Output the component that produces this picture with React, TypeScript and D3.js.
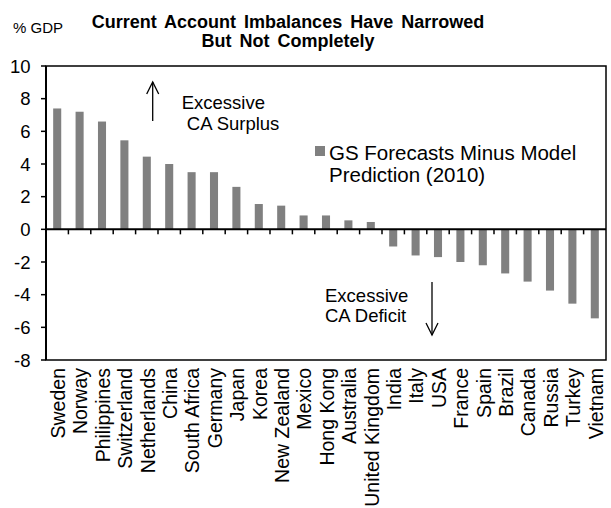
import React from "react";
import * as d3 from "d3";

const countries = [
  "Sweden", "Norway", "Philippines", "Switzerland", "Netherlands", "China",
  "South Africa", "Germany", "Japan", "Korea", "New Zealand", "Mexico",
  "Hong Kong", "Australia", "United Kingdom", "India", "Italy", "USA",
  "France", "Spain", "Brazil", "Canada", "Russia", "Turkey", "Vietnam",
];
const values = [
  7.4, 7.2, 6.6, 5.45, 4.45, 4.0, 3.5, 3.5, 2.6, 1.55, 1.45, 0.85,
  0.85, 0.55, 0.45, -1.05, -1.6, -1.7, -2.0, -2.2, -2.7, -3.2, -3.75, -4.55, -5.45,
];
const yTicks = [10, 8, 6, 4, 2, 0, -2, -4, -6, -8];
const titleLines = ["Current Account Imbalances Have Narrowed", "But Not Completely"];
const legendLines = ["GS Forecasts Minus Model", "Prediction (2010)"];
const surplusLines = ["Excessive", " CA Surplus"];
const deficitLines = ["Excessive", "CA Deficit"];
const yUnit = "% GDP";

const W = 611;
const H = 508;
const L = 46, R = 606, T = 66, B = 360;
const FONT = "'Liberation Sans', Arial, Helvetica, sans-serif";
const GRAY = "#808080";

export default function App() {
  const x = d3.scaleBand<string>().domain(countries).range([L, R]).padding(0);
  const y = d3.scaleLinear().domain([-8, 10]).range([B, T]);
  const bw = x.bandwidth();
  const barW = bw * 0.36;
  const y0 = y(0);

  const arrowHead = (cx: number, cy: number, dir: number) =>
    `M${cx - 6},${cy + dir * 12} L${cx},${cy} L${cx + 6},${cy + dir * 12}`;

  return (
    <svg
      width={W}
      height={H}
      style={{ position: "absolute", left: 0, top: 0, background: "#fff" }}
      fontFamily={FONT}
    >
      <rect x={0} y={0} width={W} height={H} fill="#fff" />
      {/* title */}
      {titleLines.map((t, i) => (
        <text
          key={t}
          x={288}
          y={28 + i * 19}
          textAnchor="middle"
          fontSize={18}
          fontWeight="bold"
          wordSpacing={3}
        >
          {t}
        </text>
      ))}
      <text x={13} y={33} fontSize={15}>{yUnit}</text>

      {/* bars */}
      {countries.map((c, i) => {
        const v = values[i];
        const yy = y(Math.max(0, v));
        const hh = Math.abs(y(v) - y0);
        return (
          <rect
            key={c}
            x={(x(c) as number) + (bw - barW) / 2}
            y={yy}
            width={barW}
            height={hh}
            fill={GRAY}
          />
        );
      })}

      {/* frame */}
      <rect x={L} y={T} width={R - L} height={B - T} fill="none" stroke="#000" strokeWidth={1.5} />
      <line x1={L} x2={L} y1={T} y2={B} stroke="#000" strokeWidth={2} />
      <line x1={L} x2={R} y1={y0} y2={y0} stroke="#000" strokeWidth={2} />

      {/* y ticks */}
      {yTicks.map((t) => (
        <g key={t}>
          <line x1={L - 5} x2={L} y1={y(t)} y2={y(t)} stroke="#000" strokeWidth={1.5} />
          <text x={30.5} y={y(t)} dy="0.36em" textAnchor="end" fontSize={18.5}>
            {String(t)}
          </text>
        </g>
      ))}

      {/* x ticks at category boundaries */}
      {countries.slice(1).map((c) => (
        <line
          key={"t" + c}
          x1={x(c) as number}
          x2={x(c) as number}
          y1={y0}
          y2={y0 + 5}
          stroke="#000"
          strokeWidth={1.5}
        />
      ))}

      {/* x labels */}
      {countries.map((c) => {
        const cx = (x(c) as number) + bw / 2;
        return (
          <text
            key={"l" + c}
            transform={`translate(${cx},${368}) rotate(-90)`}
            textAnchor="end"
            dy="0.4em"
            fontSize={19.5}
          >
            {c}
          </text>
        );
      })}

      {/* legend */}
      <rect x={315} y={146} width={10} height={10} fill={GRAY} />
      {legendLines.map((t, i) => (
        <text key={t} x={329} y={160 + i * 21.7} fontSize={20.5}>
          {t}
        </text>
      ))}

      {/* surplus annotation */}
      <line x1={152.7} x2={152.7} y1={121} y2={82} stroke="#000" strokeWidth={1.3} />
      <path d={arrowHead(152.7, 82, 1)} fill="none" stroke="#000" strokeWidth={1.3} />
      <text x={181.7} y={109} fontSize={18.5}>{surplusLines[0]}</text>
      <text x={181.7} y={130} fontSize={18.5} style={{ whiteSpace: "pre" }}>{surplusLines[1]}</text>

      {/* deficit annotation */}
      <line x1={432} x2={432} y1={282} y2={335} stroke="#000" strokeWidth={1.3} />
      <path d={arrowHead(432, 335, -1)} fill="none" stroke="#000" strokeWidth={1.3} />
      <text x={325} y={302} fontSize={18.5}>{deficitLines[0]}</text>
      <text x={325} y={322} fontSize={18.5}>{deficitLines[1]}</text>
    </svg>
  );
}
